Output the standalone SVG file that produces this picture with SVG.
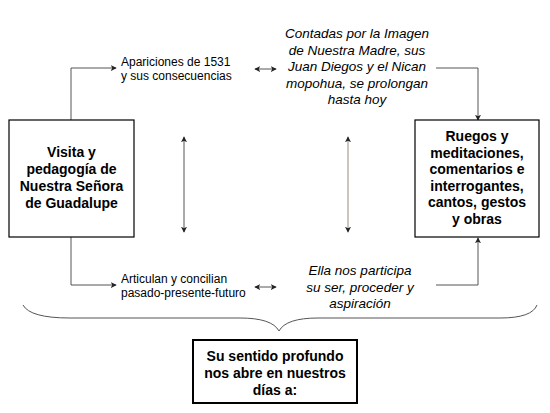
<svg xmlns="http://www.w3.org/2000/svg" width="550" height="413" viewBox="0 0 550 413">
<defs>
<style>
.box{fill:#fff;stroke:#000;stroke-width:1.2}
.bt{font-family:"Liberation Sans",Arial,sans-serif;font-size:14px;font-weight:bold;fill:#000;text-anchor:middle}
.st{font-family:"Liberation Sans",Arial,sans-serif;font-size:12px;fill:#000}
.it{font-family:"Liberation Sans",Arial,sans-serif;font-size:13.5px;font-style:italic;fill:#000;text-anchor:middle}
.ln{fill:none;stroke:#555;stroke-width:1}
</style>
<marker id="ah" viewBox="0 0 8 8" refX="7" refY="4" markerWidth="6" markerHeight="6" orient="auto-start-reverse" markerUnits="userSpaceOnUse">
<path d="M0,0 L8,4 L0,8 L2,4 Z" fill="#222"/>
</marker>
</defs>
<rect width="550" height="413" fill="#fff"/>
<g id="connectors">
<path class="ln" d="M71,120 V68 H116" marker-end="url(#ah)"/>
<path class="ln" d="M71,237 V285 H116" marker-end="url(#ah)"/>
<path class="ln" d="M436,68 H478 V120" marker-end="url(#ah)"/>
<path class="ln" d="M436,285 H478 V238" marker-end="url(#ah)"/>
<path class="ln" d="M255,69 H276" marker-start="url(#ah)" marker-end="url(#ah)"/>
<path class="ln" d="M255,287 H276" marker-start="url(#ah)" marker-end="url(#ah)"/>
<path class="ln" d="M184,137 V232" marker-start="url(#ah)" marker-end="url(#ah)"/>
<path class="ln" style="stroke:#9a8a7c" d="M348,137 V232" marker-start="url(#ah)" marker-end="url(#ah)"/>
<path class="ln" d="M23,305 Q30,318 70,318 L240,318 Q272,318 279,331 Q286,318 318,318 L500,318 Q532,318 537,305"/>
</g>
<g id="node-visita">
<rect class="box" x="9" y="120" width="125" height="117"/>
<text class="bt"><tspan x="71.5" y="157">Visita y</tspan><tspan x="71.5" y="174">pedagogía de</tspan><tspan x="71.5" y="191">Nuestra Señora</tspan><tspan x="71.5" y="208">de Guadalupe</tspan></text>
</g>
<g id="node-ruegos">
<rect class="box" x="415" y="120" width="124" height="117"/>
<text class="bt"><tspan x="477" y="141">Ruegos y</tspan><tspan x="477" y="157.5">meditaciones,</tspan><tspan x="477" y="174">comentarios e</tspan><tspan x="477" y="190.5">interrogantes,</tspan><tspan x="477" y="207">cantos, gestos</tspan><tspan x="477" y="223.5">y obras</tspan></text>
</g>
<g id="node-apariciones">
<text class="st"><tspan x="121" y="66">Apariciones de 1531</tspan><tspan x="121" y="80">y sus consecuencias</tspan></text>
</g>
<g id="node-articulan">
<text class="st"><tspan x="121" y="283">Articulan y concilian</tspan><tspan x="121" y="297">pasado-presente-futuro</tspan></text>
</g>
<g id="node-contadas">
<text class="it"><tspan x="357" y="38">Contadas por la Imagen</tspan><tspan x="357" y="54.5">de Nuestra Madre, sus</tspan><tspan x="357" y="71">Juan Diegos y el Nican</tspan><tspan x="357" y="87.5">mopohua, se prolongan</tspan><tspan x="357" y="104">hasta hoy</tspan></text>
</g>
<g id="node-ella">
<text class="it"><tspan x="360" y="275">Ella nos participa</tspan><tspan x="360" y="292">su ser, proceder y</tspan><tspan x="360" y="308">aspiración</tspan></text>
</g>
<g id="node-sentido">
<rect x="193" y="340" width="164" height="63" fill="#fff" stroke="#000" stroke-width="2"/>
<text class="bt"><tspan x="275" y="361">Su sentido profundo</tspan><tspan x="275" y="378">nos abre en nuestros</tspan><tspan x="275" y="395">días a:</tspan></text>
</g>
</svg>
